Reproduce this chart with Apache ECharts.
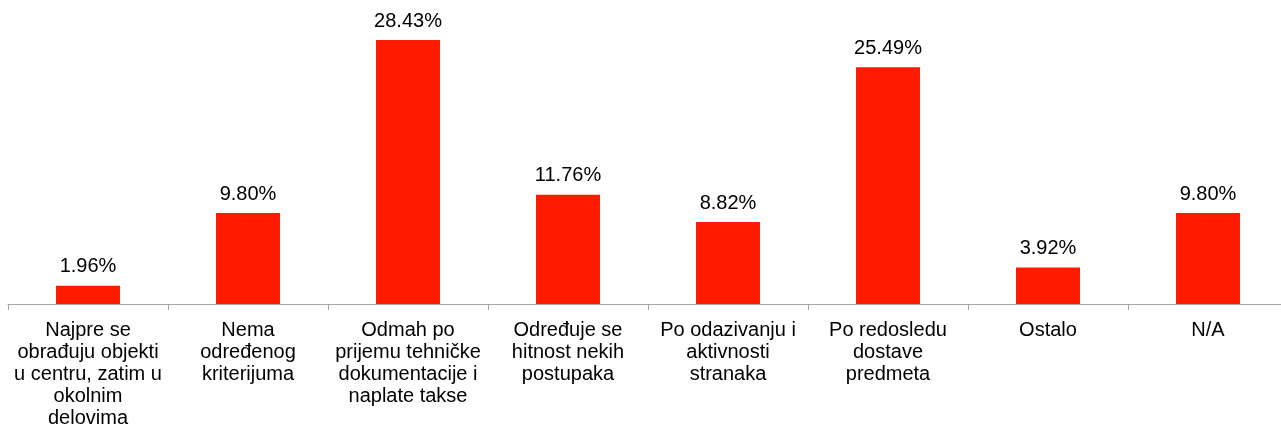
<!DOCTYPE html>
<html><head><meta charset="utf-8">
<script src="https://cdn.jsdelivr.net/npm/echarts@6/dist/echarts.min.js"></script>
<style>html,body{margin:0;padding:0;background:#fff;overflow:hidden}#c{width:1296px;height:433px}</style>
</head><body><div id="c"></div>
<script>
const categories = [
  "Najpre se\nobrađuju objekti\nu centru, zatim u\nokolnim\ndelovima",
  "Nema\nodređenog\nkriterijuma",
  "Odmah po\nprijemu tehničke\ndokumentacije i\nnaplate takse",
  "Određuje se\nhitnost nekih\npostupaka",
  "Po odazivanju i\naktivnosti\nstranaka",
  "Po redosledu\ndostave\npredmeta",
  "Ostalo",
  "N/A"
];
const values = [1.96, 9.80, 28.43, 11.76, 8.82, 25.49, 3.92, 9.80];

const chart = echarts.init(document.getElementById('c'));
chart.setOption({
  animation: false,
  grid: { left: 8, right: 8, top: 40, bottom: 129, containLabel: false },
  xAxis: {
    type: 'category',
    data: categories,
    axisLine: { lineStyle: { color: '#a6a6a6', width: 1 } },
    axisTick: { show: true, length: 6, lineStyle: { color: '#a6a6a6' } },
    axisLabel: { interval: 0, color: '#000', fontFamily: 'Liberation Sans, Arial, sans-serif', fontSize: 20, lineHeight: 22, margin: 15 }
  },
  yAxis: { type: 'value', min: 0, max: 'dataMax', show: false, splitLine: { show: false } },
  series: [{
    type: 'bar',
    data: values,
    barWidth: 64,
    itemStyle: { color: '#ff1a00' },
    label: {
      show: true, position: 'top', distance: 9,
      formatter: p => p.value.toFixed(2) + '%',
      color: '#000', fontFamily: 'Liberation Sans, Arial, sans-serif', fontSize: 20
    }
  }]
});
</script></body></html>
